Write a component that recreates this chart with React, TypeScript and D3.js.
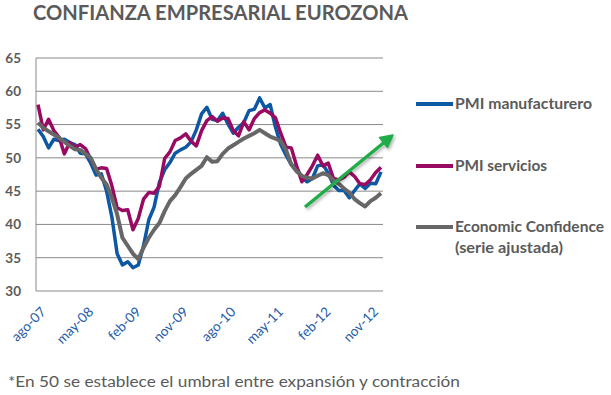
import * as d3 from "d3";

// monthly series, ago-07 .. ene-13
const PMI_MANUF = [
  54.3, 53.2, 51.5, 52.8, 52.6,
  52.8, 52.3, 52.0, 50.7, 50.6, 49.2, 47.4, 47.6, 45.0, 41.1, 35.6, 33.9,
  34.4, 33.5, 33.9, 36.8, 40.7, 42.6, 46.3, 48.2, 49.3, 50.7, 51.2, 51.6,
  52.4, 54.2, 56.6, 57.6, 55.8, 55.6, 56.7, 55.1, 53.7, 54.6, 55.3, 57.1,
  57.3, 59.0, 57.5, 58.0, 54.6, 52.0, 50.4, 49.0, 48.5, 47.1, 46.4, 46.9,
  48.8, 49.0, 47.7, 45.9, 45.1, 45.1, 44.0, 45.1, 46.1, 45.4, 46.2, 46.1,
  47.9,
];
const PMI_SERV = [
  58.0, 54.2, 55.8, 54.1, 53.1,
  50.6, 52.3, 51.6, 52.0, 51.4, 49.8, 48.3, 48.5, 48.4, 45.8, 42.5, 42.1,
  42.2, 39.2, 40.9, 43.8, 44.8, 44.7, 45.7, 49.9, 50.9, 52.6, 53.0, 53.6,
  52.5, 51.8, 54.1, 55.6, 56.2, 55.5, 56.0, 55.9, 54.1, 53.3, 55.4, 54.2,
  55.9, 56.8, 57.2, 56.7, 56.0, 53.7, 51.6, 51.5, 48.8, 46.4, 47.5, 48.8,
  50.4, 48.8, 49.2, 46.9, 46.7, 47.1, 47.9, 47.2, 46.1, 46.0, 46.7, 47.8,
  48.6,
];
const ECON_CONF = [
  55.3, 54.5, 54.0, 53.5, 53.0,
  52.4, 51.8, 51.3, 51.2, 50.6, 50.0, 48.3, 47.0, 46.0, 44.0, 41.5, 38.0,
  36.8, 35.6, 34.8, 36.5, 38.0, 39.2, 40.2, 42.0, 43.5, 44.4, 45.6, 46.9,
  47.6, 48.2, 48.8, 50.1, 49.4, 49.5, 50.6, 51.4, 51.9, 52.4, 52.9, 53.3,
  53.7, 54.2, 53.7, 53.2, 52.9, 52.5, 51.2, 49.0, 48.0, 47.3, 47.0, 46.9,
  47.3, 47.7, 47.4, 46.6, 46.1, 45.4, 44.8, 43.8, 43.2, 42.7, 43.5, 44.0,
  44.7,
];

const MONTH_ABBR = ["ene", "feb", "mar", "abr", "may", "jun", "jul", "ago", "sep", "oct", "nov", "dic"];
const START_YEAR = 2007;
const START_MONTH = 7; // ago
const Y_TICKS = [30, 35, 40, 45, 50, 55, 60, 65];

const SERIES = [
  { name: "PMI manufacturero", values: PMI_MANUF, color: "#0c58a3", width: 3.5, len: 137 },
  { name: "PMI servicios", values: PMI_SERV, color: "#990a62", width: 3.5, len: 92 },
  { name: "Economic Confidence", values: ECON_CONF, color: "#676767", width: 4, len: 149 },
];

const categories = PMI_MANUF.map((_, i) => {
  const m = START_MONTH + i;
  const yr = START_YEAR + Math.floor(m / 12);
  return `${MONTH_ABBR[m % 12]}-${String(yr).slice(2)}`;
});

const FONT = "Lato, 'Open Sans', sans-serif";
const GREY_TXT = "#5a5a5a";

export default function App() {
  const x = d3.scaleLinear().domain([0, categories.length - 1]).range([38, 381]);
  const y = d3.scaleLinear().domain([30, 65]).range([291, 58]);
  const line = d3.line<number>().x((_, i) => x(i)).y((d) => y(d));

  const legendY = [104, 166, 227];

  return (
    <svg width={611} height={395} style={{ position: "absolute", left: 0, top: 0, background: "#fff" }}>
      <defs>
        <filter id="arrow-shadow" x="-20%" y="-20%" width="140%" height="140%">
          <feDropShadow dx="1.5" dy="2" stdDeviation="1.5" floodColor="rgba(0,0,0,0.3)" />
        </filter>
      </defs>

      {/* title */}
      <text x={33} y={20} fontFamily={FONT} fontWeight={700} fontSize={20} fill={GREY_TXT}
        textLength={375} lengthAdjust="spacingAndGlyphs">
        CONFIANZA EMPRESARIAL EUROZONA
      </text>

      {/* grid */}
      {Y_TICKS.map((t) => (
        <g key={t}>
          <line x1={36} x2={383} y1={y(t)} y2={y(t)} stroke="#8a8a8a" strokeWidth={1} />
          <text x={21} y={y(t)} dy="0.36em" textAnchor="end" fontFamily={FONT} fontWeight={700}
            fontSize={13.5} fill={GREY_TXT}>{t}</text>
        </g>
      ))}
      <line x1={36} x2={36} y1={y(65)} y2={y(30)} stroke="#8a8a8a" strokeWidth={1} />

      {/* x labels */}
      {categories.map((c, i) =>
        i % 9 === 0 ? (
          <text key={c} transform={`translate(${x(i) + 2},${306}) rotate(-45)`} textAnchor="end"
            dy="0.7em" fontFamily={FONT} fontSize={13.5} fill="#1f5ba6">{c}</text>
        ) : null
      )}

      {/* series */}
      {SERIES.map((s) => (
        <path key={s.name} d={line(s.values) || ""} fill="none" stroke={s.color}
          strokeWidth={s.width} strokeLinejoin="round" />
      ))}

      {/* trend arrow */}
      <g filter="url(#arrow-shadow)">
        <line x1={305} y1={207} x2={384} y2={142.5} stroke="#22ac4a" strokeWidth={3.5} />
        <path d="M393,135 L379.5,137.5 L387.5,147.5 Z" fill="#22ac4a" stroke="#22ac4a" strokeWidth={1.5}
          strokeLinejoin="round" />
      </g>

      {/* legend */}
      {SERIES.map((s, k) => (
        <g key={s.name}>
          <line x1={416} x2={453} y1={legendY[k]} y2={legendY[k]} stroke={s.color} strokeWidth={4} />
          <text x={455} y={legendY[k]} dy="0.36em" fontFamily={FONT} fontWeight={700} fontSize={15}
            fill={GREY_TXT} textLength={s.len} lengthAdjust="spacingAndGlyphs">{s.name}</text>
        </g>
      ))}
      <text x={455} y={253} fontFamily={FONT} fontWeight={700} fontSize={15} fill={GREY_TXT}
        textLength={108} lengthAdjust="spacingAndGlyphs">
        (serie ajustada)
      </text>

      {/* footnote */}
      <text x={8} y={387} fontFamily={FONT} fontSize={14.5} fill={GREY_TXT}
        textLength={452} lengthAdjust="spacingAndGlyphs">
        *En 50 se establece el umbral entre expansión y contracción
      </text>
    </svg>
  );
}
